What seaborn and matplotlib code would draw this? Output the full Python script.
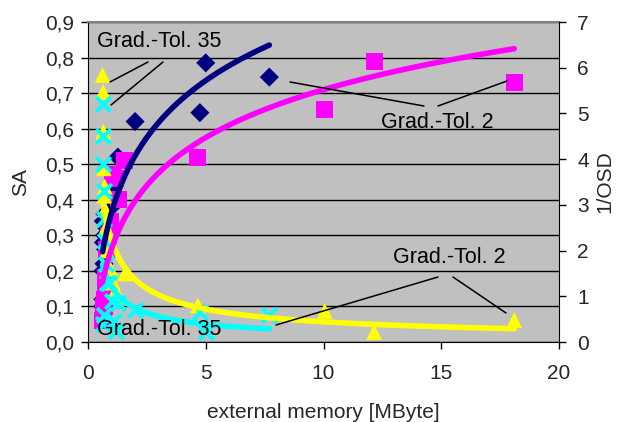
import numpy as np
import pandas as pd
import matplotlib
matplotlib.use("Agg")
import matplotlib.pyplot as plt
from matplotlib.ticker import FuncFormatter
import seaborn as sns

# ---- data ----
# Grad.-Tol. 35 : SA (navy diamonds, left axis) and 1/OSD (cyan crosses, right axis)
mem_35 = [0.62, 0.63, 0.64, 0.65, 0.66, 0.68, 0.70, 0.72, 0.75, 0.80, 0.90, 1.00, 1.10, 1.20,
          1.27, 2.0, 4.75, 5.0, 7.7]
sa_35 = [0.10, 0.12, 0.20, 0.34, 0.28, 0.22, 0.30, 0.36, 0.26, 0.32, 0.40, 0.38, 0.44, 0.46,
         0.52, 0.62, 0.645, 0.785, 0.745]
osd_35 = [5.2, 0.4, 4.5, 3.9, 0.6, 3.3, 2.7, 2.2, 1.7, 1.3, 1.3, 0.9, 0.45, 0.25,
          0.85, 0.7, 0.66, 0.22, 0.6]

# Grad.-Tol. 2 : SA (magenta squares, left axis) and 1/OSD (yellow triangles, right axis)
mem_2 = [0.62, 0.64, 0.65, 0.67, 0.69, 0.71, 0.73, 0.76, 0.80, 0.86, 0.95, 1.06, 1.15, 1.30,
         1.57, 4.67, 10.05, 12.15, 18.1]
sa_2 = [0.06, 0.07, 0.10, 0.08, 0.12, 0.10, 0.14, 0.18, 0.26, 0.30, 0.34, 0.47, 0.46, 0.40,
        0.51, 0.52, 0.653, 0.788, 0.731]
osd_2 = [5.84, 5.47, 4.6, 3.8, 3.2, 3.4, 2.9, 2.5, 2.0, 2.2, 1.6, 1.3, 1.1, 1.0,
         1.5, 0.8, 0.68, 0.22, 0.48]

x_ticks = [0, 5, 10, 15, 20]
sa_ticks = [0.0, 0.1, 0.2, 0.3, 0.4, 0.5, 0.6, 0.7, 0.8, 0.9]
osd_ticks = [0, 1, 2, 3, 4, 5, 6, 7]

NAVY, MAGENTA, YELLOW, CYAN = "#000080", "#FF00FF", "#FFFF00", "#00FFFF"
BG = "#C0C0C0"

sns.set_style("white")
plt.rcParams["font.family"] = ["Liberation Sans", "DejaVu Sans"]
FS = 15
FS_ANN = 15.5

W, H = 617, 422
fig = plt.figure(figsize=(W / 100, H / 100), dpi=100)
ax = fig.add_axes([88 / W, 1 - 342 / H, 471 / W, 320 / H])   # SA (left), background
ax2 = ax.twinx()                                               # 1/OSD (right), on top
ax.set_facecolor(BG)
ax2.patch.set_visible(False)

df35 = pd.DataFrame({"mem": mem_35, "sa": sa_35, "osd": osd_35})
df2 = pd.DataFrame({"mem": mem_2, "sa": sa_2, "osd": osd_2})

# primary-axis markers (behind)
sns.scatterplot(data=df35, x="mem", y="sa", marker="D", color=NAVY, s=95,
                edgecolor="none", ax=ax, zorder=3, legend=False)
sns.scatterplot(data=df2, x="mem", y="sa", marker="s", color=MAGENTA, s=150,
                edgecolor="none", ax=ax, zorder=3, legend=False)

# secondary-axis markers
sns.scatterplot(data=df2, x="mem", y="osd", marker="^", color=YELLOW, s=130,
                edgecolor="none", ax=ax2, zorder=3, legend=False)
sns.scatterplot(data=df35, x="mem", y="osd", marker="x", color=CYAN, s=110,
                linewidth=2.8, ax=ax2, zorder=4, legend=False)


def log_trend(x, y):
    a, b = np.polyfit(np.log(x), y, 1)
    xs = np.linspace(min(x), max(x), 300)
    return xs, a * np.log(xs) + b


def power_trend(x, y):
    p, lc = np.polyfit(np.log(x), np.log(y), 1)
    xs = np.linspace(min(x), max(x), 300)
    return xs, np.exp(lc) * xs ** p


# trend lines on top of all markers
xs, ys = power_trend(mem_2, osd_2)
sns.lineplot(x=xs, y=ys, color=YELLOW, lw=4, ax=ax2, zorder=5)
xs, ys = power_trend(mem_35, osd_35)
sns.lineplot(x=xs, y=ys, color=CYAN, lw=4, ax=ax2, zorder=5)
xs, ys = log_trend(mem_35, sa_35)
sns.lineplot(x=xs, y=ys, color=NAVY, lw=4, ax=ax2, zorder=6, transform=ax.transData)
xs, ys = log_trend(mem_2, sa_2)
sns.lineplot(x=xs, y=ys, color=MAGENTA, lw=4, ax=ax2, zorder=6, transform=ax.transData)

# axes
for a in (ax, ax2):
    a.set_xlim(0, 20)
ax.set_ylim(0, 0.9)
ax2.set_ylim(0, 7)
ax.set_xticks(x_ticks)
ax.set_yticks(sa_ticks)
ax2.set_yticks(osd_ticks)
ax.yaxis.set_major_formatter(FuncFormatter(lambda v, p: f"{v:.1f}".replace(".", ",")))
ax.grid(axis="y", color="black", lw=1.0)
ax.grid(axis="x", visible=False)
ax.set_axisbelow(True)

ax.set_xlabel("external memory [MByte]", fontsize=FS, labelpad=14)
ax2.set_xlabel("")
ax.set_ylabel("SA", fontsize=FS, labelpad=11)
ax2.set_ylabel("1/OSD", fontsize=FS, labelpad=5)

ax.tick_params(axis="both", which="major", labelsize=FS, direction="out",
               length=5, width=1, color="black", pad=5, left=True, bottom=True)
ax2.tick_params(axis="y", which="major", labelsize=FS, direction="out",
                length=5, width=1, color="black", pad=8, right=True)
ax.tick_params(axis="x", pad=11)

for a in (ax, ax2):
    for s in a.spines.values():
        s.set_visible(False)
ax.spines["top"].set_visible(True)
ax.spines["top"].set_color("#808080")
ax.spines["top"].set_linewidth(1.5)
ax.spines["bottom"].set_visible(True)
ax.spines["bottom"].set_color("black")
ax.spines["left"].set_visible(True)
ax.spines["left"].set_color("black")
ax2.spines["right"].set_visible(True)
ax2.spines["right"].set_color("black")


# annotations (figure pixel positions, origin top-left)
def P(px, py):
    return (px, H - py)


tkw = dict(xycoords="figure pixels", fontsize=FS_ANN, color="black", va="baseline",
           ha="left", zorder=10, annotation_clip=False)
ax2.annotate("Grad.-Tol. 35", xy=P(97, 47), **tkw)
ax2.annotate("Grad.-Tol. 2", xy=P(381, 128), **tkw)
ax2.annotate("Grad.-Tol. 2", xy=P(393, 263), **tkw)
ax2.annotate("Grad.-Tol. 35", xy=P(97, 335), **tkw)

leaders = [((148, 62), (110, 82)), ((163, 62), (111, 105)),
           ((424, 106), (290, 82)), ((438, 106), (507, 81)),
           ((438, 277), (276, 325)), ((453, 277), (506, 313))]
for (x0, y0), (x1, y1) in leaders:
    ax2.annotate("", xy=P(x1, y1), xytext=P(x0, y0), xycoords="figure pixels",
                 textcoords="figure pixels",
                 arrowprops=dict(arrowstyle="-", lw=1.1, color="black", shrinkA=0, shrinkB=0),
                 zorder=10, annotation_clip=False)

fig.savefig("out.png", dpi=100, facecolor="white")
